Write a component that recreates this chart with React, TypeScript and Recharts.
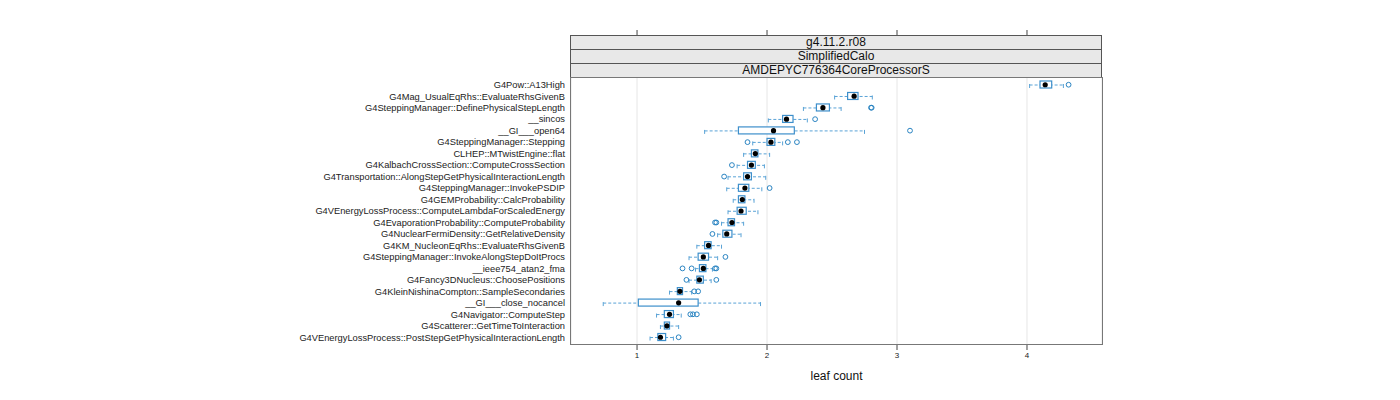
import { Bar, CartesianGrid, ComposedChart, Scatter, XAxis, YAxis } from "recharts";

const names = [
  "G4Pow::A13High",
  "G4Mag_UsualEqRhs::EvaluateRhsGivenB",
  "G4SteppingManager::DefinePhysicalStepLength",
  "__sincos",
  "__GI___open64",
  "G4SteppingManager::Stepping",
  "CLHEP::MTwistEngine::flat",
  "G4KalbachCrossSection::ComputeCrossSection",
  "G4Transportation::AlongStepGetPhysicalInteractionLength",
  "G4SteppingManager::InvokePSDIP",
  "G4GEMProbability::CalcProbability",
  "G4VEnergyLossProcess::ComputeLambdaForScaledEnergy",
  "G4EvaporationProbability::ComputeProbability",
  "G4NuclearFermiDensity::GetRelativeDensity",
  "G4KM_NucleonEqRhs::EvaluateRhsGivenB",
  "G4SteppingManager::InvokeAlongStepDoItProcs",
  "__ieee754_atan2_fma",
  "G4Fancy3DNucleus::ChoosePositions",
  "G4KleinNishinaCompton::SampleSecondaries",
  "__GI___close_nocancel",
  "G4Navigator::ComputeStep",
  "G4Scatterer::GetTimeToInteraction",
  "G4VEnergyLossProcess::PostStepGetPhysicalInteractionLength",
];

const lo = [4.02, 2.52, 2.28, 2.01, 1.52, 1.89, 1.82, 1.77, 1.7, 1.69, 1.74, 1.7, 1.65, 1.62, 1.46, 1.4, 1.45, 1.4, 1.25, 0.74, 1.15, 1.18, 1.1];
const q1 = [4.1, 2.62, 2.38, 2.12, 1.78, 2.0, 1.88, 1.85, 1.82, 1.78, 1.78, 1.77, 1.7, 1.66, 1.52, 1.47, 1.48, 1.46, 1.31, 1.01, 1.21, 1.21, 1.16];
const med = [4.14, 2.67, 2.43, 2.15, 2.05, 2.03, 1.91, 1.88, 1.85, 1.83, 1.81, 1.8, 1.73, 1.69, 1.55, 1.51, 1.51, 1.48, 1.33, 1.32, 1.25, 1.23, 1.18];
const q3 = [4.19, 2.7, 2.48, 2.2, 2.21, 2.06, 1.93, 1.91, 1.88, 1.86, 1.83, 1.84, 1.75, 1.73, 1.57, 1.55, 1.53, 1.51, 1.35, 1.47, 1.28, 1.25, 1.22];
const hi = [4.28, 2.81, 2.57, 2.31, 2.75, 2.12, 2.02, 1.98, 1.99, 1.96, 1.9, 1.93, 1.82, 1.8, 1.65, 1.62, 1.58, 1.57, 1.42, 1.95, 1.34, 1.32, 1.28];
const outliers = [
  [4.32], [], [2.8, 2.805], [2.37], [3.1], [1.85, 2.16, 2.23], [], [1.73], [1.67], [2.02], [], [],
  [1.6, 1.61], [1.58], [], [1.68], [1.35, 1.42, 1.6, 1.61], [1.38, 1.61], [1.44, 1.47], [],
  [1.41, 1.43, 1.46], [], [1.32],
];
const xTicks = [1, 2, 3, 4];
const strips = ["g4.11.2.r08", "SimplifiedCalo", "AMDEPYC776364CoreProcessorS"];

const rows = names.map((name, i) => ({
  name,
  lo: lo[i],
  q1: q1[i],
  med: med[i],
  q3: q3[i],
  hi: hi[i],
  o0: outliers[i][0] ?? null,
  o1: outliers[i][1] ?? null,
  o2: outliers[i][2] ?? null,
  o3: outliers[i][3] ?? null,
}));

const BOX = "#3d8fcb";
const WHISK = "#5aa3d6";
const OUT = "#2a84c2";
const FONT = "'Liberation Sans', Arial, sans-serif";

const Whisker = (p: any) => {
  const { x, y, width, height } = p;
  if (x == null || !isFinite(x)) return <g />;
  const cy = y + height / 2;
  return (
    <g stroke={WHISK} strokeWidth={1} fill="none">
      <line x1={x} x2={x + width} y1={cy} y2={cy} strokeDasharray="3 2" />
      <line x1={x} x2={x} y1={cy - 1} y2={cy + 3} />
      <line x1={x + width} x2={x + width} y1={cy - 1} y2={cy + 3} />
    </g>
  );
};

const Box = (p: any) => {
  const { x, y, width, height } = p;
  if (x == null || !isFinite(x)) return <g />;
  return <rect x={x} y={y} width={width} height={height} fill="#fff" stroke={BOX} strokeWidth={1.2} />;
};

const Median = (p: any) => (p.cx == null || !isFinite(p.cx) ? <g /> : <circle cx={p.cx} cy={p.cy} r={2.6} fill="#000" />);

const Outlier = (p: any) =>
  p.cx == null || !isFinite(p.cx) ? <g /> : <circle cx={p.cx} cy={p.cy} r={2.4} fill="none" stroke={OUT} strokeWidth={1} />;

// ticks above the strips, as lattice puts them
const TopTick = (p: any) => <line x1={p.x} x2={p.x} y1={30} y2={35} stroke="#444" />;

export default function App() {
  return (
    <div style={{ position: "absolute", left: 0, top: 0, width: 1400, height: 400, fontFamily: FONT }}>
      <ComposedChart
        width={1400}
        height={400}
        data={rows}
        layout="vertical"
        margin={{ top: 77, right: 298, bottom: 16, left: 0 }}
      >
        <CartesianGrid xAxisId="b" yAxisId="main" horizontal={false} stroke="#e6e6e6" />
        <XAxis
          xAxisId="b"
          type="number"
          domain={[0.492, 4.577]}
          ticks={xTicks}
          allowDataOverflow
          height={40}
          tickSize={6}
          axisLine={false}
          tickLine={{ stroke: "#444" }}
          tick={{ fontSize: 8, fill: "#222", fontFamily: FONT }}
          label={{ value: "leaf count", position: "insideBottom", offset: 4, fontSize: 12, fill: "#111", fontFamily: FONT }}
        />
        <XAxis
          xAxisId="t"
          orientation="top"
          type="number"
          domain={[0.492, 4.577]}
          ticks={xTicks}
          allowDataOverflow
          height={1}
          axisLine={false}
          tickLine={false}
          tick={(p: any) => <TopTick {...p} />}
        />
        <YAxis
          yAxisId="main"
          type="category"
          dataKey="name"
          width={571}
          tickSize={0}
          tickMargin={6}
          axisLine={false}
          tickLine={false}
          interval={0}
          padding={{ top: 1, bottom: 1 }}
          tick={{ fontSize: 9.3, fill: "#222", fontFamily: FONT }}
        />
        <YAxis yAxisId="w" type="category" dataKey="name" hide padding={{ top: 1, bottom: 1 }} />
        <Bar
          xAxisId="b"
          yAxisId="w"
          dataKey={(d: any) => [d.lo, d.hi]}
          barSize={6}
          shape={<Whisker />}
          isAnimationActive={false}
        />
        <Bar
          xAxisId="b"
          yAxisId="main"
          dataKey={(d: any) => [d.q1, d.q3]}
          barSize={7}
          shape={<Box />}
          isAnimationActive={false}
        />
        <Scatter xAxisId="b" yAxisId="main" dataKey="med" shape={<Median />} isAnimationActive={false} />
        <Scatter xAxisId="b" yAxisId="main" dataKey="o0" shape={<Outlier />} isAnimationActive={false} />
        <Scatter xAxisId="b" yAxisId="main" dataKey="o1" shape={<Outlier />} isAnimationActive={false} />
        <Scatter xAxisId="b" yAxisId="main" dataKey="o2" shape={<Outlier />} isAnimationActive={false} />
        <Scatter xAxisId="b" yAxisId="main" dataKey="o3" shape={<Outlier />} isAnimationActive={false} />
      </ComposedChart>
      {strips.map((s, i) => (
        <div
          key={s}
          style={{
            position: "absolute",
            left: 570,
            top: 35 + i * 14,
            width: 530,
            height: 13,
            border: "1px solid #555",
            background: "#e8e8e8",
            fontSize: 12,
            lineHeight: "13px",
            textAlign: "center",
            color: "#111",
          }}
        >
          {s}
        </div>
      ))}
      <div
        style={{
          position: "absolute",
          left: 570,
          top: 77,
          width: 531,
          height: 266,
          border: "1px solid #777",
          pointerEvents: "none",
        }}
      />
    </div>
  );
}
